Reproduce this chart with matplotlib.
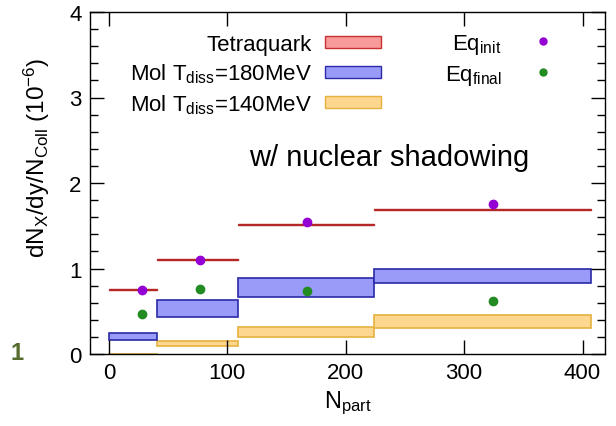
import numpy as np
import matplotlib
matplotlib.use('Agg')
import matplotlib.pyplot as plt
from matplotlib.patches import Patch
from matplotlib.lines import Line2D

plt.rcParams['font.family'] = ['Liberation Sans', 'DejaVu Sans']
plt.rcParams['mathtext.fontset'] = 'custom'
plt.rcParams['mathtext.rm'] = 'Liberation Sans'
plt.rcParams['mathtext.it'] = 'Liberation Sans:italic'

# Npart bins
edges = [0, 41, 109, 224, 407]
# tetraquark (thin band)
tetra = [0.75, 1.10, 1.52, 1.69]
# molecule, Tdiss = 180 MeV
mol180_lo = [0.165, 0.43, 0.67, 0.83]
mol180_hi = [0.245, 0.63, 0.885, 1.00]
# molecule, Tdiss = 140 MeV
mol140_lo = [-0.05, 0.09, 0.20, 0.30]
mol140_hi = [0.005, 0.152, 0.32, 0.46]
# statistical (Eq) points
eq_x = [27.6, 77, 167, 324]
eq_init = [0.75, 1.10, 1.54, 1.75]
eq_final = [0.47, 0.757, 0.737, 0.62]

W, H = 616, 427
fig = plt.figure(figsize=(W / 100, H / 100), dpi=100)
ax = fig.add_axes([90 / W, 1 - 355 / H, (605 - 90) / W, (355 - 13) / H])

left = np.array(edges[:-1])
width = np.diff(edges)
tetra = np.array(tetra)

ax.bar(left, np.array(mol140_hi) - np.array(mol140_lo), width=width, bottom=mol140_lo,
       align='edge', color='#fdd78f', edgecolor='#e5b23f', linewidth=1.2)
ax.bar(left, np.array(mol180_hi) - np.array(mol180_lo), width=width, bottom=mol180_lo,
       align='edge', color='#9a9af8', edgecolor='#2a2aa8', linewidth=1.2)
ax.bar(left, np.full(4, 0.012), width=width, bottom=tetra - 0.006,
       align='edge', color='#e06060', edgecolor='#b52828', linewidth=1.0)

ax.plot(eq_x, eq_init, 'o', color='#9400d3', markersize=6, linestyle='none')
ax.plot(eq_x, eq_final, 'o', color='#228b22', markersize=6, linestyle='none')

ax.set_xlim(-16, 419)
ax.set_ylim(0, 4)
ax.set_xticks([0, 100, 200, 300, 400])
ax.set_yticks([0, 1, 2, 3, 4])
ax.set_yticks(np.arange(0, 4.01, 0.2), minor=True)
ax.tick_params(which='both', direction='in', top=True, right=True, labelsize=16, width=1)
ax.tick_params(which='major', length=10, pad=6)
ax.tick_params(which='minor', length=6)
for s in ax.spines.values():
    s.set_linewidth(1)

ax.set_xlabel(r'N$_\mathrm{part}$', fontsize=17, labelpad=4)
ax.set_ylabel(r'dN$_\mathrm{X}$/dy/N$_\mathrm{Coll}$ (10$^{-6}$)', fontsize=17.5)
ax.yaxis.set_label_coords((52 - 90) / 515, (355 - 158) / 342)

ax.text(237, 2.30, 'w/ nuclear shadowing', fontsize=21, ha='center', va='center')

h1 = [Patch(facecolor='#f79a9a', edgecolor='#c83030'),
      Patch(facecolor='#9a9af8', edgecolor='#2a2aa8'),
      Patch(facecolor='#fdd78f', edgecolor='#e5b23f')]
l1 = ['Tetraquark', r'Mol T$_\mathrm{diss}$=180MeV', r'Mol T$_\mathrm{diss}$=140MeV']
leg1 = ax.legend(h1, l1, loc='upper right', bbox_to_anchor=(381 / W, 1 - 35 / H),
                 bbox_transform=fig.transFigure, frameon=False, markerfirst=False,
                 fontsize=16, handlelength=2.5, handleheight=0.45, handletextpad=0.6,
                 labelspacing=0.3, borderpad=0, borderaxespad=0)
ax.add_artist(leg1)

h2 = [Line2D([], [], marker='o', color='#9400d3', linestyle='none', markersize=5),
      Line2D([], [], marker='o', color='#228b22', linestyle='none', markersize=5)]
l2 = [r'Eq$_\mathrm{init}$', r'Eq$_\mathrm{final}$']
ax.legend(h2, l2, loc='upper right', bbox_to_anchor=(565 / W, 1 - 33 / H),
          bbox_transform=fig.transFigure, frameon=False, markerfirst=False,
          fontsize=16, handlelength=2.0, handletextpad=0.85,
          labelspacing=0.3, borderpad=0, borderaxespad=0)

fig.text(17 / W, 1 - 354 / H, '1', fontsize=17, fontweight='bold', color='#566b2c',
         ha='center', va='center')

fig.savefig('out.png', dpi=100)
